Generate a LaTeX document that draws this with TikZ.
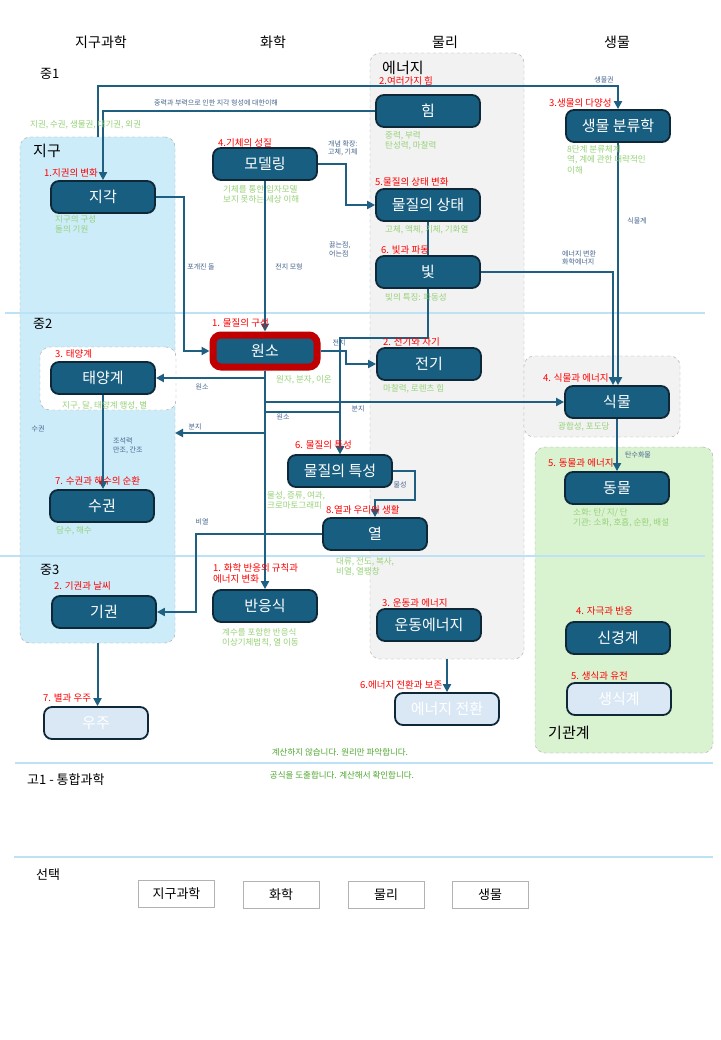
\documentclass[tikz,border=0pt]{standalone}
\usepackage{fontspec}
\setmainfont{Noto Sans CJK KR}
\usetikzlibrary{arrows.meta,calc}
\definecolor{nodeblue}{RGB}{24,94,128}
\definecolor{nodeborder}{RGB}{14,40,56}
\definecolor{lightnode}{RGB}{218,232,245}
\definecolor{linec}{RGB}{30,95,130}
\definecolor{greentxt}{RGB}{150,210,120}
\definecolor{darkgreen}{RGB}{78,167,46}
\definecolor{bluetxt}{RGB}{70,100,140}
\definecolor{earthfill}{RGB}{204,236,250}
\definecolor{energyfill}{RGB}{242,242,242}
\definecolor{organfill}{RGB}{217,242,208}
\definecolor{sepline}{RGB}{190,226,245}
\definecolor{redborder}{RGB}{192,0,0}
\pgfdeclarelayer{bg}\pgfdeclarelayer{mid}\pgfsetlayers{bg,mid,main}
\tikzset{
  nd/.style={draw=nodeborder, line width=1.8pt, fill=nodeblue, rounded corners=8pt, minimum width=104pt, minimum height=32pt, text=white, font=\fontsize{15}{18}\selectfont, inner sep=0pt},
  ltnd/.style={nd, fill=lightnode},
  grp/.style={draw=gray!70, dashed, rounded corners=10pt, inner sep=0pt},
  rl/.style={text=red, font=\fontsize{9.5}{11}\selectfont, anchor=west, inner sep=0pt, align=left},
  gl/.style={text=greentxt, font=\fontsize{8.5}{10.5}\selectfont, anchor=west, align=left, inner sep=0pt},
  bl/.style={text=bluetxt, font=\fontsize{7}{8.5}\selectfont, inner sep=0pt, align=left},
  hdr/.style={font=\fontsize{14}{16}\selectfont, inner sep=0pt},
  lvl/.style={font=\fontsize{13}{15}\selectfont, inner sep=0pt, anchor=west},
  glab/.style={font=\fontsize{15}{17}\selectfont, inner sep=0pt, anchor=west},
  arr/.style={draw=linec, line width=2pt, -{Triangle[length=8pt,width=8pt]}},
  sep/.style={draw=sepline, line width=2pt},
  selbox/.style={draw=gray!60, line width=0.8pt, minimum width=76pt, minimum height=27pt, font=\fontsize{13}{15}\selectfont, inner sep=0pt}
}
\begin{document}
\begin{tikzpicture}[x=1pt,y=-1pt]
\useasboundingbox (0,0) rectangle (720,1040);
% group boxes
\begin{pgfonlayer}{bg}
\fill[white] (0,0) rectangle (720,1040);
\node[grp, fill=earthfill, minimum width=155pt, minimum height=506pt] (gEarth) at (97.5,390) {};
\node[grp, fill=energyfill, minimum width=154pt, minimum height=606pt] (gEnergy) at (447,356) {};
\node[grp, fill=energyfill, minimum width=156pt, minimum height=81pt] (gPlant) at (602,396.5) {};
\node[grp, fill=organfill, minimum width=178pt, minimum height=306pt] (gOrgan) at (624,600) {};
\node[grp, fill=white, minimum width=136pt, minimum height=63pt] (gSolar) at (108,378.5) {};
\draw[sep] (5,313) coordinate (s1a) -- (705,313) coordinate (s1b);
\draw[sep] (0,556) coordinate (s2a) -- (705,556) coordinate (s2b);
\draw[sep] (15,763) coordinate (s3a) -- (713,763) coordinate (s3b);
\draw[sep] (14,857) coordinate (s4a) -- (713,857) coordinate (s4b);
\end{pgfonlayer}

% headers
\node[hdr] (h1) at (101,42) {지구과학};
\node[hdr] (h2) at (273,42) {화학};
\node[hdr] (h3) at (445,42) {물리};
\node[hdr] (h4) at (617,42) {생물};
\node[lvl] (l1) at (40,74) {중1};
\node[lvl] (l2) at (33,324) {중2};
\node[lvl] (l3) at (40,570) {중3};
\node[lvl] (l4) at (27,780) {고1 - 통합과학};
\node[lvl] (l5) at (36,875) {선택};
\node[glab] (gl1) at (33,151) {지구};
\node[glab] (gl2) at (382,68) {에너지};
\node[glab] (gl3) at (548,733) {기관계};

% main nodes
\node[nd] (crust) at (103,197) {지각};
\node[nd] (model) at (265,164) {모델링};
\node[nd] (force) at (428,111) {힘};
\node[nd] (state) at (428,205) {물질의 상태};
\node[nd] (light) at (428,272) {빛};
\node[nd] (bio) at (618,126) {생물 분류학};
\node[nd, draw=redborder, line width=7pt] (atom) at (265,351) {원소};
\node[nd] (elec) at (429,364) {전기};
\node[nd] (solar) at (103,378) {태양계};
\node[nd] (plant) at (617,402) {식물};
\node[nd] (prop) at (340,471) {물질의 특성};
\node[nd] (hydro) at (102,506) {수권};
\node[nd] (animal) at (617,488) {동물};
\node[nd] (heat) at (375,534) {열};
\node[nd] (air) at (104,612) {기권};
\node[nd] (react) at (265,606) {반응식};
\node[nd] (kin) at (429,625) {운동에너지};
\node[nd] (nerve) at (618,638) {신경계};
\node[ltnd] (space) at (96,723) {우주};
\node[ltnd] (conv) at (447,709) {에너지 전환};
\node[ltnd] (repro) at (619,699) {생식계};

% red labels
\node[rl] (r1) at (44,173) {1.지권의 변화};
\node[rl] (r2) at (218,143) {4.기체의 성질};
\node[rl] (r3) at (379,81) {2.여러가지 힘};
\node[rl] (r4) at (375,182) {5.물질의 상태 변화};
\node[rl] (r5) at (381,250) {6. 빛과 파동};
\node[rl] (r6) at (549,103) {3.생물의 다양성};
\node[rl] (r7) at (212,323) {1. 물질의 구성};
\node[rl] (r8) at (383,342) {2. 전기와 자기};
\node[rl] (r9) at (55,354) {3. 태양계};
\node[rl] (r10) at (543,378) {4. 식물과 에너지};
\node[rl] (r11) at (548,463) {5. 동물과 에너지};
\node[rl] (r12) at (295,445) {6. 물질의 특성};
\node[rl] (r13) at (55,481) {7. 수권과 해수의 순환};
\node[rl] (r14) at (326,510) {8.열과 우리의 생활};
\node[rl] (r15) at (54,586) {2. 기권과 날씨};
\node[rl, anchor=north west] (r16) at (213,563) {1. 화학 반응의 규칙과\\에너지 변화};
\node[rl] (r17) at (382,603) {3. 운동과 에너지};
\node[rl] (r18) at (576,611) {4. 자극과 반응};
\node[rl] (r19) at (571,676) {5. 생식과 유전};
\node[rl] (r20) at (360,685) {6.에너지 전환과 보존};
\node[rl] (r21) at (43,698) {7. 별과 우주};

% green texts
\node[gl] (g1) at (30,125) {지권, 수권, 생물권, 대기권, 외권};
\node[gl, anchor=north west] (g2) at (55,215) {지구의 구성\\돌의 기원};
\node[gl, anchor=north west] (g3) at (223,185) {기체를 통한 입자모델\\보지 못하는 세상 이해};
\node[gl, anchor=north west] (g4) at (385,131) {중력, 부력\\탄성력, 마찰력};
\node[gl] (g5) at (385,230) {고체, 액체, 기체, 기화열};
\node[gl] (g6) at (385,297) {빛의 특징: 파동성};
\node[gl, anchor=north west] (g7) at (567,145) {8단계 분류체계\\역, 계에 관한 대략적인\\이해};
\node[gl] (g8) at (276,380) {원자, 분자, 이온};
\node[gl] (g9) at (383,389) {마찰력, 로렌츠 힘};
\node[gl] (g10) at (62,406) {지구, 달, 태양계 행성, 별};
\node[gl] (g11) at (558,427) {광합성, 포도당};
\node[gl, anchor=north west] (g12) at (267,491) {물성, 증류, 여과,\\크로마토그래피};
\node[gl] (g13) at (56,531) {담수, 해수};
\node[gl, anchor=north west] (g14) at (573,508) {소화: 탄/ 지/ 단\\기관: 소화, 호흡, 순환, 배설};
\node[gl, anchor=north west] (g15) at (336,557) {대류, 전도, 복사,\\비열, 열팽창};
\node[gl, anchor=north west] (g16) at (222,628) {계수를 포함한 반응식\\이상기체법칙, 열 이동};
\node[gl, anchor=center, text=darkgreen] (g17) at (340,752) {계산하지 않습니다. 원리만 파악합니다.};
\node[gl, anchor=center, text=darkgreen] (g18) at (342,775) {공식을 도출합니다. 계산해서 확인합니다.};

% blue labels
\node[bl] (b1) at (216,103) {중력과 부력으로 인한 지각 형성에 대한이해};
\node[bl] (b2) at (604,80) {생물권};
\node[bl, anchor=north west] (b3) at (328,140) {개념 확장:\\고체, 기체};
\node[bl] (b4) at (201,267) {포개진 돌};
\node[bl] (b5) at (289,267) {전지 모형};
\node[bl, anchor=north west] (b6) at (329,242) {끓는점,\\어는점};
\node[bl, anchor=north west] (b7) at (562,250) {에너지 변환\\화학에너지};
\node[bl] (b8) at (637,221) {식물계};
\node[bl] (b9) at (339,343) {전지};
\node[bl] (b10) at (202,387) {원소};
\node[bl] (b11) at (283,417) {원소};
\node[bl] (b12) at (358,409) {분지};
\node[bl] (b13) at (195,427) {분지};
\node[bl] (b14) at (38,429) {수권};
\node[bl, anchor=north west] (b15) at (113,438) {조석력\\만조, 간조};
\node[bl] (b16) at (638,455) {탄수화물};
\node[bl] (b17) at (400,485) {물성};
\node[bl] (b18) at (202,522) {비열};

% selection boxes
\node[selbox] (sel1) at (176.5,894) {지구과학};
\node[selbox] (sel2) at (281,895) {화학};
\node[selbox] (sel3) at (386,895) {물리};
\node[selbox] (sel4) at (490,895) {생물};

% connectors
\coordinate (hydroIn) at (175,433);
\begin{pgfonlayer}{mid}
\draw[arr] (gEarth.north) -- (97.5,86) -| (bio.north);
\draw[arr] (force.west) -| (crust.north);
\draw[arr] (crust.east) -- (184,197) |- (atom.west);
\draw[arr] (model.south) -- (atom.north);
\draw[arr] (model.east) -- (346,164) |- (state.west);
\draw[arr] (state.south) -- (428,338) -| (prop.north);
\draw[arr] (light.east) -| ([xshift=-4pt]plant.north);
\draw[arr] (bio.south) -- (bio.south |- plant.north);
\draw[arr] (atom.east) -- (346,351) |- (elec.west);
\draw[arr] (atom.south) |- (solar.east);
\draw[arr] (atom.south) |- (plant.west);
\draw[arr] (atom.south) -- (265,412) -| (prop.north);
\draw[arr] (atom.south) |- (hydroIn);
\draw[arr] (atom.south) -- (react.north);
\draw[arr] (heat.west) -- (196,534) |- (air.east);
\draw[arr] (solar.south) -- (solar.south |- hydro.north);
\draw[arr] (prop.east) -- (415,471) -- (415,500) -| (heat.north);
\draw[arr] (plant.south) -- (animal.north);
\draw[arr] (gEarth.south) -- (gEarth.south |- space.north);
\draw[arr] (gEnergy.south) -- (conv.north);
\end{pgfonlayer}
\end{tikzpicture}
\end{document}
